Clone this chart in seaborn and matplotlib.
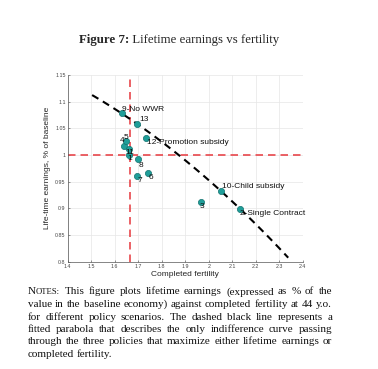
import numpy as np
import pandas as pd
import seaborn as sns
import matplotlib.pyplot as plt

# Policy scenarios: completed fertility vs lifetime earnings (% of baseline)
policy_ids = ['1', '2', '3', '4', '5', '6', '7', '8', '9', '10', '11', '12', '13']
policy_labels = ['1', '2-Single Contract', '3', '4', '5', '6', '7', '8',
                 '9-No WWR', '10-Child subsidy', '11', '12-Promotion subsidy', '13']
fertility = [1.662, 2.133, 1.966, 1.640, 1.650, 1.740, 1.694, 1.700,
             1.629, 2.052, 1.662, 1.732, 1.696]
earnings = [1.000, 0.899, 0.912, 1.017, 1.026, 0.967, 0.961, 0.992,
            1.078, 0.932, 1.011, 1.032, 1.058]

# baseline reference lines
baseline_fertility = 1.665
baseline_earnings = 1.0

# policies the indifference parabola passes through, and its drawn range
parabola_ids = ['9', '13', '2']
parabola_range = (1.504, 2.338)

x_ticks = [1.4, 1.5, 1.6, 1.7, 1.8, 1.9, 2.0, 2.1, 2.2, 2.3, 2.4]
x_ticklabels = ['1.4', '1.5', '1.6', '1.7', '1.8', '1.9', '2', '2.1', '2.2', '2.3', '2.4']
y_ticks = [0.8, 0.85, 0.9, 0.95, 1.0, 1.05, 1.1, 1.15]
y_ticklabels = ['0.8', '0.85', '0.9', '0.95', '1', '1.05', '1.1', '1.15']

notes_lines = [
    "NOTES: This figure plots lifetime earnings (expressed as % of the",
    "value in the baseline economy) against completed fertility at 44 y.o.",
    "for different policy scenarios.  The dashed black line represents a",
    "fitted parabola that describes the only indifference curve passing",
    "through the three policies that maximize either lifetime earnings or",
    "completed fertility.",
]

# label offsets in points (dx, dy) relative to each marker
label_offsets = {
    '1': (-1.4, -2.9), '2': (0.0, -3.3), '3': (-0.5, -3.6), '4': (-3.0, 3.5),
    '5': (-2.0, 2.6), '6': (0.5, -3.6), '7': (0.5, -3.2), '8': (0.5, -4.8),
    '9': (0.0, 2.6), '10': (0.5, 3.5), '11': (-2.6, -2.5), '12': (1.2, -3.6),
    '13': (1.4, 3.2),
}

df = pd.DataFrame({'id': policy_ids, 'label': policy_labels,
                   'fertility': fertility, 'earnings': earnings})

sns.set_theme(style='whitegrid')
plt.rcParams['font.family'] = ['Liberation Sans', 'DejaVu Sans']

fig = plt.figure(figsize=(3.78, 3.69), dpi=100)
ax = fig.add_axes([0.179, 0.291, 0.622, 0.506])

# fitted parabola through the three extreme policies
sub = df.set_index('id').loc[parabola_ids]
coef = np.polyfit(sub['fertility'], sub['earnings'], 2)
curve = pd.DataFrame({'x': np.linspace(parabola_range[0], parabola_range[1], 100)})
curve['y'] = np.polyval(coef, curve['x'])
sns.lineplot(data=curve, x='x', y='y', ax=ax, color='black', lw=1.5,
             dashes=False, zorder=3).lines[0].set_dashes([3.5, 2.5])

ax.axvline(baseline_fertility, color='#e8474c', lw=1.2, dashes=(4.5, 3), zorder=2)
ax.axhline(baseline_earnings, color='#e8474c', lw=1.2, dashes=(4.5, 3), zorder=2)

sns.scatterplot(data=df, x='fertility', y='earnings', ax=ax, color='#1f9e99',
                edgecolor='#137370', linewidth=0.5, s=20, zorder=4)

for _, row in df.iterrows():
    ax.annotate(row['label'], (row['fertility'], row['earnings']),
                xytext=label_offsets[row['id']], textcoords='offset points',
                ha='left', va='center', fontsize=6, color='#111111', zorder=5)

ax.set_xlim(1.4, 2.4)
ax.set_ylim(0.8, 1.15)
ax.set_xticks(x_ticks)
ax.set_xticklabels(x_ticklabels)
ax.set_yticks(y_ticks)
ax.set_yticklabels(y_ticklabels)
ax.tick_params(labelsize=3.8, colors='#444444', length=1.5, width=0.4,
               direction='in', pad=1.5, left=True, bottom=True)
ax.set_xlabel('Completed fertility', fontsize=6, labelpad=2)
ax.set_ylabel('Life-time earnings, % of baseline', fontsize=6, labelpad=3)
ax.grid(color='#e6e6e6', lw=0.5)
ax.set_facecolor('white')
for side in ['top', 'right']:
    ax.spines[side].set_visible(False)
for side in ['left', 'bottom']:
    ax.spines[side].set_color('#555555')
    ax.spines[side].set_linewidth(0.5)

# title: bold "Figure 7:" followed by regular text, centred as one line
renderer = fig.canvas.get_renderer()
serif = ['Liberation Serif', 'DejaVu Serif']
t1 = fig.text(0, 0, 'Figure 7:', fontsize=9.3, fontweight='bold', family=serif,
              va='center', transform=None)
t2 = fig.text(0, 0, ' Lifetime earnings vs fertility', fontsize=9.3, family=serif,
              va='center', transform=None)
w1 = t1.get_window_extent(renderer).width
w2 = t2.get_window_extent(renderer).width
title_x0 = 179 - (w1 + w2) / 2
title_y = 369 - 40.5
t1.set_position((title_x0, title_y))
t2.set_position((title_x0 + w1, title_y))

# notes block, justified between two margins
left_px, right_px = 28, 332
line_y0, line_step = 369 - 291.5, 12.5
note_size = 8.0
space_w = 0.25 * note_size * 100 / 72


def word_pieces(word):
    # small caps for the "NOTES:" lead-in
    if word == 'NOTES:':
        return [('N', note_size), ('OTES:', note_size * 0.78)]
    return [(word, note_size)]


for i, line in enumerate(notes_lines):
    y = line_y0 - i * line_step
    items = []
    for w in line.split():
        pieces = []
        for txt, size in word_pieces(w):
            t = fig.text(0, y, txt, fontsize=size, family=serif, va='baseline',
                         transform=None, color='#111111')
            pieces.append((t, t.get_window_extent(renderer).width))
        items.append(pieces)
    widths = [sum(p[1] for p in it) for it in items]
    if i < len(notes_lines) - 1 and len(items) > 1:
        gap = (right_px - left_px - sum(widths)) / (len(items) - 1)
    else:
        gap = space_w
    x = left_px
    for it, wd in zip(items, widths):
        xx = x
        for t, pw in it:
            t.set_position((xx, y - 3))
            xx += pw
        x += wd + gap

fig.savefig('out.png', dpi=100)
